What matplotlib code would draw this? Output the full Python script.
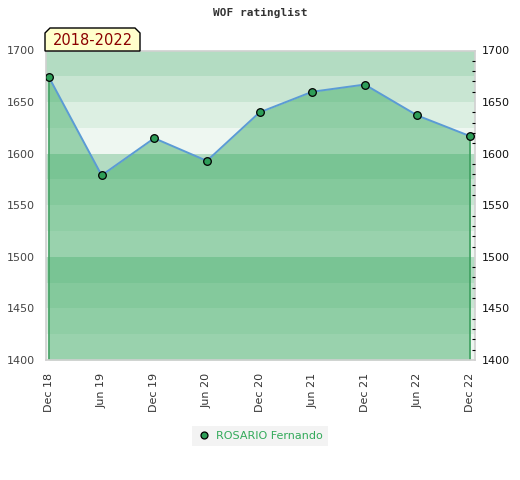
import matplotlib
matplotlib.use('Agg')
from matplotlib import pyplot as plt
from matplotlib.patches import Polygon
import numpy as np

# data
periods = ['Dec 18', 'Jun 19', 'Dec 19', 'Jun 20', 'Dec 20', 'Jun 21', 'Dec 21', 'Jun 22', 'Dec 22']
ratings = [1674, 1579, 1615, 1593, 1640, 1660, 1667, 1637, 1617]
player = 'ROSARIO Fernando'
span_label = '2018-2022'
y_ticks = [1400, 1450, 1500, 1550, 1600, 1650, 1700]

W, H = 520, 480
fig = plt.figure(figsize=(W / 100, H / 100), dpi=100)
ax = fig.add_axes([46 / W, 1 - 360 / H, (475 - 46) / W, (360 - 50.5) / H])

x = np.arange(len(periods))
ymin, ymax = 1400, 1700

# background bands, every 25 points, lighter towards bottom of each hundred
band_cols = ['#b3dcc2', '#c8e5d2', '#dcefe2', '#eef7f1']
for top in range(ymax, ymin, -25):
    k = ((ymax - top) // 25) % 4
    ax.axhspan(top - 25, top, color=band_cols[k], lw=0, zorder=0)

# filled area under the rating line
fill_col = (53 / 255, 168 / 255, 94 / 255)
ax.fill_between(x, ratings, ymin, color=fill_col, alpha=0.46, lw=0, zorder=1)
ax.vlines([x[0], x[-1]], ymin, [ratings[0], ratings[-1]], color='#3f9f60', lw=1.2, zorder=2)
ax.plot(x, ratings, color='#5b9bd5', lw=1.4, zorder=3)
ax.plot(x, ratings, 'o', ms=5.5, mfc='#2e9e58', mec='black', mew=0.9, zorder=4)

ax.set_xlim(-0.057, len(periods) - 1 + 0.095)
ax.set_ylim(ymin, ymax)

ax.set_xticks(x)
ax.set_xticklabels(periods, rotation=90, fontsize=8, color='#333333')
ax.tick_params(axis='x', length=0, pad=9)

ax.set_yticks(y_ticks)
ax.tick_params(axis='y', which='major', length=0, labelsize=8, labelcolor='#444444', pad=8)

for s in ax.spines.values():
    s.set_color('#d0d0d0')
    s.set_linewidth(1.2)

# right axis with minor ticks every 10
ax2 = ax.twinx()
ax2.set_ylim(ymin, ymax)
ax2.set_yticks(y_ticks)
ax2.set_yticks([v for v in range(ymin + 10, ymax, 10) if v % 50 != 0], minor=True)
ax2.tick_params(axis='y', which='major', length=0, labelsize=8, labelcolor='#111111', pad=5)
ax2.tick_params(axis='y', which='minor', length=2.4, width=0.8, direction='in', color='black')
for s in ax2.spines.values():
    s.set_visible(False)

# title
fig.text(260 / W, 1 - 13 / H, 'WOF ratinglist', ha='center', va='center',
         family='DejaVu Sans Mono', fontweight='bold', fontsize=8, color='#333333')

# period label box with clipped top corners
bx0, bx1, by0, by1, c = 45, 140, 28, 51, 5
pts = [(bx0, by1), (bx0, by0 + c), (bx0 + c, by0), (bx1 - c, by0), (bx1, by0 + c), (bx1, by1)]
pts = [(px / W, 1 - py / H) for px, py in pts]
fig.patches.append(Polygon(pts, closed=True, transform=fig.transFigure, fc='#ffffcc',
                           ec='black', lw=1, zorder=5))
fig.text((bx0 + bx1) / 2 / W, 1 - 40.5 / H, span_label, ha='center', va='center',
         fontsize=10.5, color='#8b0000', zorder=6)

# legend
leg = ax.legend([plt.Line2D([], [], ls='', marker='o', ms=5, mfc='#2e9e58', mec='black', mew=0.9)],
                [player], loc='center', bbox_to_anchor=(260 / W, 1 - 436 / H),
                bbox_transform=fig.transFigure, frameon=True, fontsize=8,
                handletextpad=0.5, borderpad=0.45, handlelength=1.2)
leg.get_frame().set_facecolor('#f0f0f0')
leg.get_frame().set_edgecolor('none')
leg.get_frame().set_boxstyle('square', pad=0)
for t in leg.get_texts():
    t.set_color('#33aa5a')

fig.savefig('out.png', dpi=100)
